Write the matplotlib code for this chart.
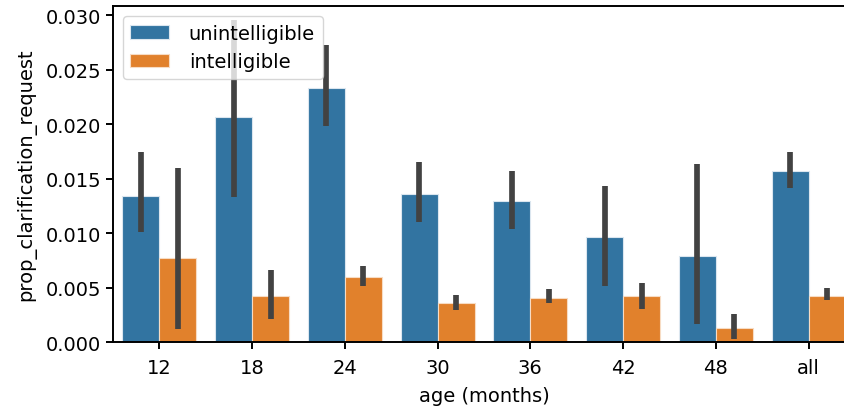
import numpy as np
import matplotlib
matplotlib.use('Agg')
import matplotlib.pyplot as plt

# data
ages = ['12', '18', '24', '30', '36', '42', '48', 'all']
unintel = [0.01344, 0.02065, 0.02328, 0.01359, 0.01292, 0.00962, 0.00788, 0.01567]
unintel_lo = [0.01008, 0.01329, 0.01985, 0.0110, 0.01039, 0.00513, 0.00168, 0.01411]
unintel_hi = [0.01742, 0.02957, 0.02725, 0.0165, 0.01573, 0.0143, 0.01632, 0.01747]
intel = [0.0077, 0.00422, 0.00601, 0.0036, 0.00409, 0.00422, 0.00128, 0.00427]
intel_lo = [0.00122, 0.00214, 0.00519, 0.00299, 0.00357, 0.00305, 0.0003, 0.00388]
intel_hi = [0.01595, 0.00665, 0.00702, 0.00436, 0.00486, 0.00544, 0.00259, 0.00495]

plt.rcParams['font.family'] = 'DejaVu Sans'
plt.rcParams['font.size'] = 14

fig = plt.figure(figsize=(8.45, 4.10), dpi=100)
# axes run off the right edge like in the reference
ax = fig.add_axes([113/845, 1-343.3/410, (855-113)/845, (343.3-7)/410])

x = np.arange(len(ages))
w = 0.4
blue = '#3274a1'
orange = '#e1812c'
ax.bar(x - w/2, unintel, w, color=blue, edgecolor='#dbe6ef', linewidth=0.8, label='unintelligible', zorder=2)
ax.bar(x + w/2, intel, w, color=orange, edgecolor='#f7dcc4', linewidth=0.8, label='intelligible', zorder=2)
ax.vlines(x - w/2, unintel_lo, unintel_hi, color='#424242', lw=4.1, zorder=3)
ax.vlines(x + w/2, intel_lo, intel_hi, color='#424242', lw=4.1, zorder=3)

ax.set_xlim(-0.5, 7.5)
ax.set_ylim(0, 0.03083)
ax.set_xticks(x)
ax.set_xticklabels(ages)
ax.set_yticks(np.arange(0, 0.0301, 0.005))
ax.set_yticklabels(['%.3f' % v for v in np.arange(0, 0.0301, 0.005)])
ax.set_xlabel('age (months)', labelpad=7)
ax.set_ylabel('prop_clarification_request', labelpad=7)
for s in ax.spines.values():
    s.set_linewidth(1.4)
ax.tick_params(width=1.4, length=5)
ax.tick_params(axis='x', pad=6)

leg = ax.legend(loc='upper left', fontsize=14, handletextpad=1.0)
leg.set_zorder(5)

fig.savefig('out.png', dpi=100)
